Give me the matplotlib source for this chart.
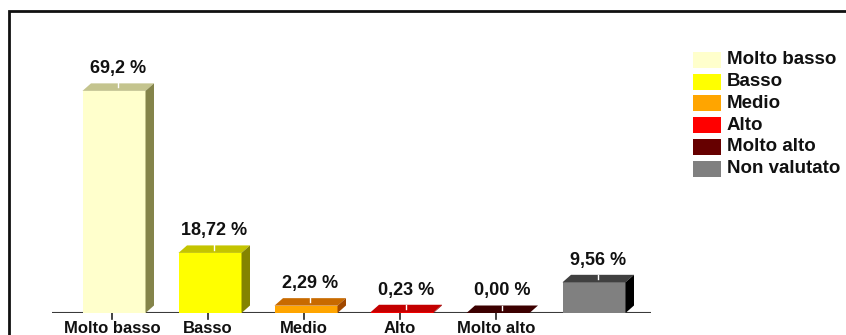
import matplotlib
matplotlib.use('Agg')
import matplotlib.pyplot as plt
from matplotlib.patches import Polygon, Rectangle

categories = ["Molto basso", "Basso", "Medio", "Alto", "Molto alto", "Non valutato"]
tick_labels = ["Molto basso", "Basso", "Medio", "Alto", "Molto alto", ""]
values = [69.2, 18.72, 2.29, 0.23, 0.00, 9.56]
value_labels = ["69,2 %", "18,72 %", "2,29 %", "0,23 %", "0,00 %", "9,56 %"]

front_colors = ["#FFFFCC", "#FFFF00", "#FFA500", "#FF0000", "#660000", "#808080"]
top_colors = ["#C4C48E", "#C4C400", "#C86A00", "#C40000", "#3C0000", "#404040"]
side_colors = ["#84844A", "#848400", "#A04800", "#880000", "#2A0000", "#000000"]

W, H = 846, 335
FONT = "Liberation Sans"

fig = plt.figure(figsize=(W / 100, H / 100), dpi=100)

# axes placed so that baseline sits at y=313 px and categories are 96 px apart
x_left, x_right = 52, 651
y_base, y_top = 313, 11
ax = fig.add_axes([x_left / W, (H - y_base) / H, (x_right - x_left) / W, (y_base - y_top) / H])
px_x = 96.0
px_y = 3.21
ax.set_xlim((x_left - 112) / px_x, (x_right - 112) / px_x)
ax.set_ylim(0, (y_base - y_top) / px_y)
ax.axis('off')

half = 31.5 / px_x
shift = 2 / px_x
dx = 8.5 / px_x
dy = 7.5 / px_y

ax.axhline(0, color="#3a3a3a", lw=1.5, zorder=1)

for i, v in enumerate(values):
    x0 = i + shift - half
    x1 = i + shift + half
    # front face
    ax.add_patch(Polygon([(x0, 0), (x1, 0), (x1, v), (x0, v)], closed=True,
                         facecolor=front_colors[i], edgecolor='none', zorder=3))
    # top face
    ax.add_patch(Polygon([(x0, v), (x1, v), (x1 + dx, v + dy), (x0 + dx, v + dy)], closed=True,
                         facecolor=top_colors[i], edgecolor='none', zorder=3))
    # side face
    ax.add_patch(Polygon([(x1, 0), (x1 + dx, dy), (x1 + dx, v + dy), (x1, v)], closed=True,
                         facecolor=side_colors[i], edgecolor='none', zorder=3))
    # small white mark on top face
    cx = i + shift + dx / 2
    ax.plot([cx, cx], [v + dy * 0.45, v + dy], color='white', lw=1, zorder=4)
    # value label
    ax.text(cx, v + dy + 6 / px_y, value_labels[i], ha='center', va='bottom',
            fontsize=13, fontweight='bold', family=FONT, color='#111111', zorder=5)
    if tick_labels[i]:
        # tick below baseline
        ax.plot([i, i], [0, -6 / px_y], color='#222222', lw=1.2, clip_on=False, zorder=2)
        ax.text(i, -8 / px_y, tick_labels[i], ha='center', va='top', fontsize=12,
                fontweight='bold', family=FONT, color='#111111', clip_on=False)

# legend drawn manually
row_y = [60, 81.7, 103.4, 125.1, 146.8, 168.5]
for k, name in enumerate(categories):
    yc = row_y[k]
    fig.patches.append(Rectangle((693 / W, (H - yc - 8) / H), 28 / W, 16 / H,
                                 transform=fig.transFigure, facecolor=front_colors[k],
                                 edgecolor='none'))
    fig.text(727 / W, (H - yc) / H, name, ha='left', va='center', fontsize=13.5,
             fontweight='bold', family=FONT, color='#111111')

# outer frame
fig.patches.append(Rectangle((9 / W, -0.2), 1.5, (H - 11) / H + 0.2,
                             transform=fig.transFigure, facecolor='none',
                             edgecolor='#111111', lw=2))

plt.savefig("out.png", dpi=100)
plt.close()
